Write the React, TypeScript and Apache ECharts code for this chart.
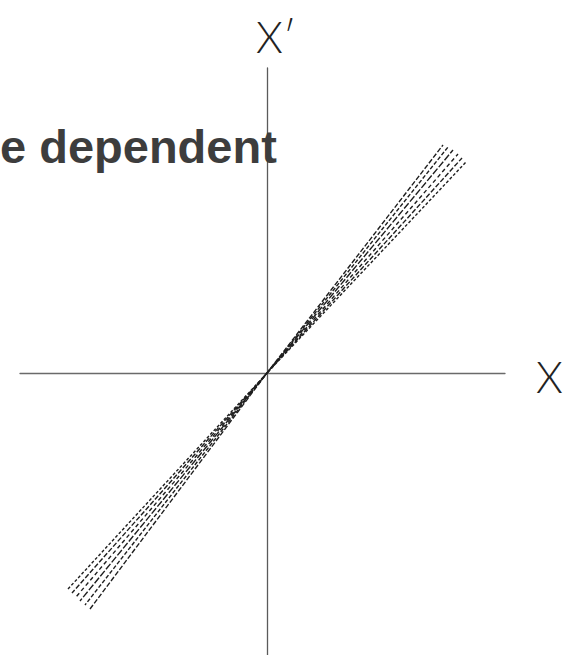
import React, { useEffect, useRef } from "react";
import * as echarts from "echarts";

// axis extents in data units (origin at the crossing)
const xRange = [-247, 238];
const yRange = [-282, 305];

// dashed strands of the band: lower tip, crossing point, upper tip
const strandLower = [
  [-177, -236],
  [-182, -232],
  [-187, -228],
  [-191, -224],
  [-195, -220],
  [-199, -216],
];
const strandMid = [
  [0, 0],
  [0, 0],
  [0, 0],
  [0, 0],
  [0, 0],
  [0, 0],
];
const strandUpper = [
  [176, 228],
  [181, 226],
  [186, 223],
  [191, 219],
  [195, 215],
  [199, 211],
];
const strandDash = [
  [5, 2],
  [4, 2],
  [7, 2],
  [4, 3],
  [5, 2],
  [3, 2],
];

const axisNames = ["X", "X′"];
const captionText = "e dependent";

export default function App() {
  const ref = useRef<HTMLDivElement>(null);

  useEffect(() => {
    if (!ref.current) return;
    const chart = echarts.init(ref.current, undefined, { renderer: "svg" });

    const series = strandLower.map((lo, i) => ({
      type: "line",
      data: [lo, strandMid[i], strandUpper[i]],
      showSymbol: false,
      symbol: "none",
      silent: true,
      lineStyle: {
        color: "#1f1f1f",
        width: 1.4,
        type: strandDash[i],
        dashOffset: i * 2,
      },
    }));

    chart.setOption({
      animation: false,
      backgroundColor: "#ffffff",
      grid: { left: 20, right: 72, top: 68, bottom: 0 },
      xAxis: {
        type: "value",
        min: xRange[0],
        max: xRange[1],
        axisLine: { show: true, onZero: true, lineStyle: { color: "#6a6a6a", width: 1.3 } },
        axisTick: { show: false },
        axisLabel: { show: false },
        splitLine: { show: false },
      },
      yAxis: {
        type: "value",
        min: yRange[0],
        max: yRange[1],
        axisLine: { show: true, onZero: true, lineStyle: { color: "#5a5a5a", width: 1.3 } },
        axisTick: { show: false },
        axisLabel: { show: false },
        splitLine: { show: false },
      },
      series,
      graphic: [
        {
          type: "text",
          left: 0,
          top: 123,
          style: {
            text: captionText,
            font: "bold 47px 'Liberation Sans', Arial, sans-serif",
            fill: "#3d3d3d",
          },
          z: 10,
        },
        {
          type: "text",
          x: 256,
          y: 36,
          style: {
            text: axisNames[1],
            font: "300 43px Lato, 'Liberation Sans', sans-serif",
            fill: "#222",
            textAlign: "left",
            textVerticalAlign: "middle",
          },
        },
        {
          type: "text",
          x: 536,
          y: 376,
          style: {
            text: axisNames[0],
            font: "300 43px Lato, 'Liberation Sans', sans-serif",
            fill: "#222",
            textAlign: "left",
            textVerticalAlign: "middle",
          },
        },
      ],
    });

    return () => chart.dispose();
  }, []);

  return (
    <div
      ref={ref}
      style={{ position: "fixed", left: 0, top: 0, width: 577, height: 655 }}
    />
  );
}
